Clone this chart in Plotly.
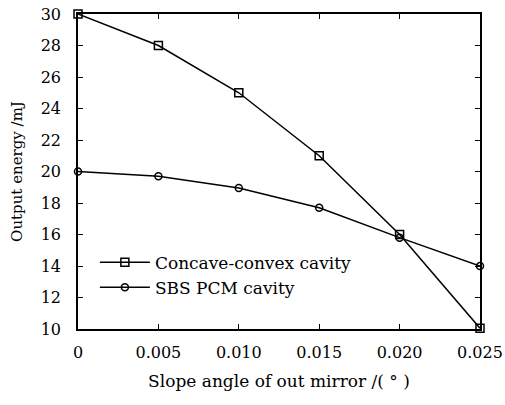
import plotly.graph_objects as go

slope = [0, 0.005, 0.010, 0.015, 0.020, 0.025]
concave = [30, 28, 25, 21, 16, 10.05]
sbs = [20, 19.7, 18.95, 17.7, 15.8, 14]
xtick_vals = [0, 0.005, 0.010, 0.015, 0.020, 0.025]
xtick_text = ["0", "0.005", "0.010", "0.015", "0.020", "0.025"]
ytick_vals = [10, 12, 14, 16, 18, 20, 22, 24, 26, 28, 30]

SERIF = "DejaVu Serif, Liberation Serif, serif"

fig = go.Figure()
fig.add_trace(go.Scatter(x=slope, y=concave, mode="lines+markers", name="Concave-convex cavity",
                         line=dict(color="black", width=1.5),
                         marker=dict(symbol="square-open", size=8, color="black", line=dict(width=1.5)),
                         cliponaxis=False))
fig.add_trace(go.Scatter(x=slope, y=sbs, mode="lines+markers", name="SBS PCM cavity",
                         line=dict(color="black", width=1.5),
                         marker=dict(symbol="circle-open", size=7, color="black", line=dict(width=1.5)),
                         cliponaxis=False))

fig.update_layout(
    width=505, height=405,
    margin=dict(l=78, r=25, t=14, b=76, autoexpand=False),
    paper_bgcolor="white", plot_bgcolor="white",
    font=dict(family=SERIF, size=16, color="black"),
    showlegend=True,
    legend=dict(x=0.042, y=0.268, xanchor="left", yanchor="top", bgcolor="rgba(0,0,0,0)",
                font=dict(family=SERIF, size=17, color="black"), tracegroupgap=0, itemwidth=50),
    xaxis=dict(range=[0, 0.025], tickvals=xtick_vals, ticktext=xtick_text,
               ticks="inside", ticklen=5, tickwidth=1, tickcolor="black",
               showline=True, linecolor="black", linewidth=1.5, mirror="ticks",
               showgrid=False, zeroline=False, automargin=False, ticklabelstandoff=8,
               tickfont=dict(family=SERIF, size=16),
               title=dict(text="Slope angle of out mirror /( ° )", font=dict(family=SERIF, size=17), standoff=14)),
    yaxis=dict(range=[10, 30], tickvals=ytick_vals,
               ticks="inside", ticklen=5, tickwidth=1, tickcolor="black",
               showline=True, linecolor="black", linewidth=1.5, mirror="ticks",
               showgrid=False, zeroline=False, automargin=False, ticklabelstandoff=12,
               tickfont=dict(family=SERIF, size=16),
               title=dict(text="Output energy /mJ", font=dict(family=SERIF, size=15), standoff=14)),
)
fig.write_html("out.html", config={"displayModeBar": False},
               post_script="document.body.style.margin='0';")
